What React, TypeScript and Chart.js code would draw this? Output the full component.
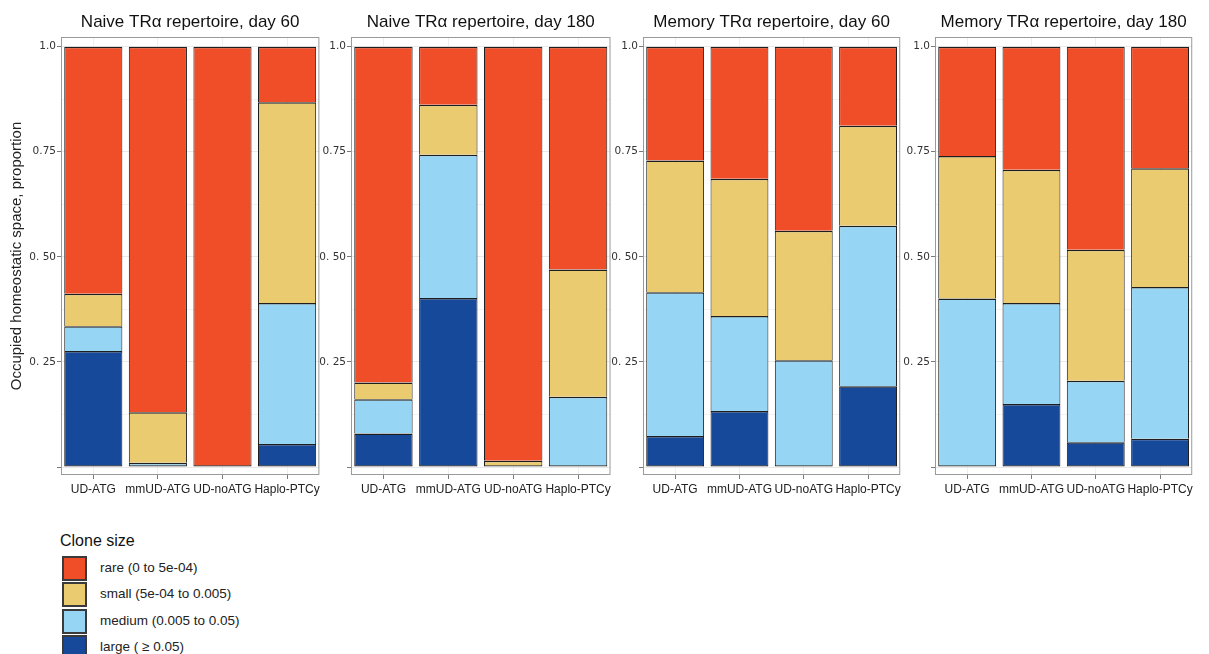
import React, { useEffect, useRef } from "react";
import { Chart, registerables } from "chart.js";

Chart.register(...registerables);

// ---------- data ----------
const CATEGORIES = ["UD-ATG", "mmUD-ATG", "UD-noATG", "Haplo-PTCy"];
const PANEL_TITLES = [
  "Naive TRα repertoire, day 60",
  "Naive TRα repertoire, day 180",
  "Memory TRα repertoire, day 60",
  "Memory TRα repertoire, day 180",
];
const SERIES_NAMES = [
  "rare (0 to 5e-04)",
  "small (5e-04 to 0.005)",
  "medium (0.005 to 0.05)",
  "large ( ≥ 0.05)",
];
const LEGEND_TITLE = "Clone size";
const Y_AXIS_TITLE = "Occupied homeostatic space, proportion";
const Y_TICK_VALUES = [0, 0.25, 0.5, 0.75, 1];
const Y_TICK_LABELS = ["", "0. 25", "0. 50", "0.75", "1.0"];
const Y_GRID_VALUES = [0, 0.125, 0.25, 0.375, 0.5, 0.625, 0.75, 0.875, 1];

// Naive TRα, day 60
const NAIVE60_LARGE = [0.276, 0, 0, 0.055];
const NAIVE60_MEDIUM = [0.059, 0.01, 0, 0.335];
const NAIVE60_SMALL = [0.077, 0.12, 0, 0.478];
const NAIVE60_RARE = [0.588, 0.87, 1.0, 0.132];

// Naive TRα, day 180
const NAIVE180_LARGE = [0.08, 0.402, 0, 0];
const NAIVE180_MEDIUM = [0.081, 0.341, 0, 0.167];
const NAIVE180_SMALL = [0.04, 0.119, 0.015, 0.303];
const NAIVE180_RARE = [0.799, 0.138, 0.985, 0.53];

// Memory TRα, day 60
const MEM60_LARGE = [0.074, 0.133, 0, 0.192];
const MEM60_MEDIUM = [0.342, 0.226, 0.254, 0.382];
const MEM60_SMALL = [0.313, 0.327, 0.308, 0.238];
const MEM60_RARE = [0.271, 0.314, 0.438, 0.188];

// Memory TRα, day 180
const MEM180_LARGE = [0, 0.15, 0.059, 0.067];
const MEM180_MEDIUM = [0.401, 0.24, 0.146, 0.361];
const MEM180_SMALL = [0.339, 0.317, 0.312, 0.283];
const MEM180_RARE = [0.26, 0.293, 0.483, 0.289];

const PANEL_DATA = [
  { large: NAIVE60_LARGE, medium: NAIVE60_MEDIUM, small: NAIVE60_SMALL, rare: NAIVE60_RARE },
  { large: NAIVE180_LARGE, medium: NAIVE180_MEDIUM, small: NAIVE180_SMALL, rare: NAIVE180_RARE },
  { large: MEM60_LARGE, medium: MEM60_MEDIUM, small: MEM60_SMALL, rare: MEM60_RARE },
  { large: MEM180_LARGE, medium: MEM180_MEDIUM, small: MEM180_SMALL, rare: MEM180_RARE },
];

// ---------- styles ----------
const COLOR_RARE = "#EF4E29";
const COLOR_SMALL = "#EACB6F";
const COLOR_MEDIUM = "#96D5F3";
const COLOR_LARGE = "#17499B";
const LEGEND_COLORS = [COLOR_RARE, COLOR_SMALL, COLOR_MEDIUM, COLOR_LARGE];
const FONT = '"Liberation Sans", Arial, Helvetica, sans-serif';

const CANVAS_H = 500;
const PANEL_LAYOUT = [
  { left: 0, yW: 61, frameW: 260, yTitle: true },
  { left: 319, yW: 32, frameW: 261, yTitle: false },
  { left: 611, yW: 32, frameW: 259, yTitle: false },
  { left: 903, yW: 32, frameW: 259, yTitle: false },
];

const framePlugin = {
  id: "panelFrame",
  afterDatasetsDraw(chart: any) {
    const { ctx, chartArea } = chart;
    ctx.save();
    ctx.strokeStyle = "#9a9a9a";
    ctx.lineWidth = 1;
    ctx.strokeRect(
      chartArea.left + 0.5,
      chartArea.top + 0.5,
      chartArea.right - chartArea.left - 1,
      chartArea.bottom - chartArea.top - 1
    );
    ctx.restore();
  },
};

const titlePlugin = {
  id: "panelTitle",
  afterDraw(chart: any, _args: any, opts: any) {
    const { ctx, chartArea } = chart;
    ctx.save();
    ctx.font = `17px ${FONT}`;
    ctx.fillStyle = "#111";
    ctx.textAlign = "center";
    ctx.textBaseline = "alphabetic";
    ctx.fillText(opts.text, (chartArea.left + chartArea.right) / 2, 27);
    ctx.restore();
  },
};

function barBorderWidth(ctx: any) {
  const ds = ctx.chart.data.datasets;
  const i = ctx.dataIndex;
  const d = ctx.datasetIndex;
  let lowest = true;
  for (let k = 0; k < d; k++) {
    if ((ds[k].data[i] as number) > 0) lowest = false;
  }
  return { top: 1.5, left: 1, right: 1, bottom: lowest ? 1.2 : 0 };
}

function Panel({ index }: { index: number }) {
  const ref = useRef<HTMLCanvasElement | null>(null);
  const lay = PANEL_LAYOUT[index];
  const width = lay.yW + lay.frameW + 2;

  useEffect(() => {
    const d = PANEL_DATA[index];
    const mk = (label: string, data: number[], color: string) => ({
      label,
      data,
      backgroundColor: color,
      borderColor: "#1e1e1e",
      borderWidth: barBorderWidth,
      borderSkipped: false,
      barPercentage: 0.9,
      categoryPercentage: 1.0,
    });
    const chart = new Chart(ref.current as HTMLCanvasElement, {
      type: "bar",
      data: {
        labels: CATEGORIES,
        datasets: [
          mk(SERIES_NAMES[3], d.large, COLOR_LARGE),
          mk(SERIES_NAMES[2], d.medium, COLOR_MEDIUM),
          mk(SERIES_NAMES[1], d.small, COLOR_SMALL),
          mk(SERIES_NAMES[0], d.rare, COLOR_RARE),
        ] as any,
      },
      options: {
        animation: false,
        responsive: false,
        devicePixelRatio: 1,
        layout: { padding: { top: 37, right: 2, bottom: 0, left: 0 } },
        plugins: {
          legend: { display: false },
          tooltip: { enabled: false },
          panelTitle: { text: PANEL_TITLES[index] },
        } as any,
        scales: {
          x: {
            stacked: true,
            offset: true,
            border: { display: false },
            grid: {
              offset: false,
              color: "#efefef",
              tickColor: "#7a7a7a",
              tickLength: 4,
              drawTicks: true,
            },
            ticks: {
              color: "#222",
              font: { family: FONT, size: 12 },
              padding: 3,
              maxRotation: 0,
              autoSkip: false,
            },
            afterFit: (scale: any) => {
              scale.height = 25;
            },
          },
          y: {
            stacked: true,
            min: -0.019,
            max: 1.023,
            border: { display: false },
            grid: {
              color: (c: any) =>
                Y_TICK_VALUES.indexOf(c.tick?.value) >= 0 ? "#e9e9e9" : "#f3f3f3",
              tickColor: (c: any) =>
                Y_TICK_VALUES.indexOf(c.tick?.value) >= 0 ? "#7a7a7a" : "rgba(0,0,0,0)",
              tickLength: 4,
            },
            ticks: {
              color: "#333",
              font: { family: '"DejaVu Sans", Verdana, sans-serif', size: 10.5 },
              padding: 1,
              autoSkip: false,
              callback: (v: any) => {
                const i = Y_TICK_VALUES.indexOf(Number(v));
                return i >= 0 ? Y_TICK_LABELS[i] : "";
              },
            },
            afterBuildTicks: (scale: any) => {
              scale.ticks = Y_GRID_VALUES.map((v) => ({ value: v }));
            },
            afterFit: (scale: any) => {
              scale.width = lay.yW;
            },
            title: {
              display: lay.yTitle,
              text: Y_AXIS_TITLE,
              color: "#222",
              font: { family: FONT, size: 15 },
              padding: { top: 8, bottom: 0 },
            },
          },
        },
      } as any,
      plugins: [framePlugin, titlePlugin],
    });
    return () => chart.destroy();
  }, [index]);

  return (
    <canvas
      ref={ref}
      width={width}
      height={CANVAS_H}
      style={{ position: "absolute", left: lay.left, top: 0, width, height: CANVAS_H }}
    />
  );
}

function Legend() {
  return (
    <div style={{ position: "absolute", left: 60, top: 531, fontFamily: FONT, color: "#111" }}>
      <div style={{ fontSize: 16, lineHeight: "20px", height: 20 }}>{LEGEND_TITLE}</div>
      <div style={{ position: "absolute", left: 0, top: 25 }}>
        {SERIES_NAMES.map((name, i) => (
          <div
            key={name}
            style={{ position: "absolute", left: 0, top: i * 26.3, width: 220, height: 26 }}
          >
            <div
              style={{
                position: "absolute",
                left: 2,
                top: 0,
                width: 21,
                height: 21,
                background: LEGEND_COLORS[i],
                border: "2px solid #3a3a3a",
              }}
            />
            <div
              style={{
                position: "absolute",
                left: 40,
                top: 3,
                fontSize: 13.5,
                lineHeight: "18px",
                whiteSpace: "nowrap",
                color: "#222",
              }}
            >
              {name}
            </div>
          </div>
        ))}
      </div>
    </div>
  );
}

export default function App() {
  return (
    <div
      style={{
        position: "fixed",
        left: 0,
        top: 0,
        width: 1209,
        height: 654,
        background: "#fff",
        overflow: "hidden",
      }}
    >
      {PANEL_LAYOUT.map((_, i) => (
        <Panel key={i} index={i} />
      ))}
      <Legend />
    </div>
  );
}
